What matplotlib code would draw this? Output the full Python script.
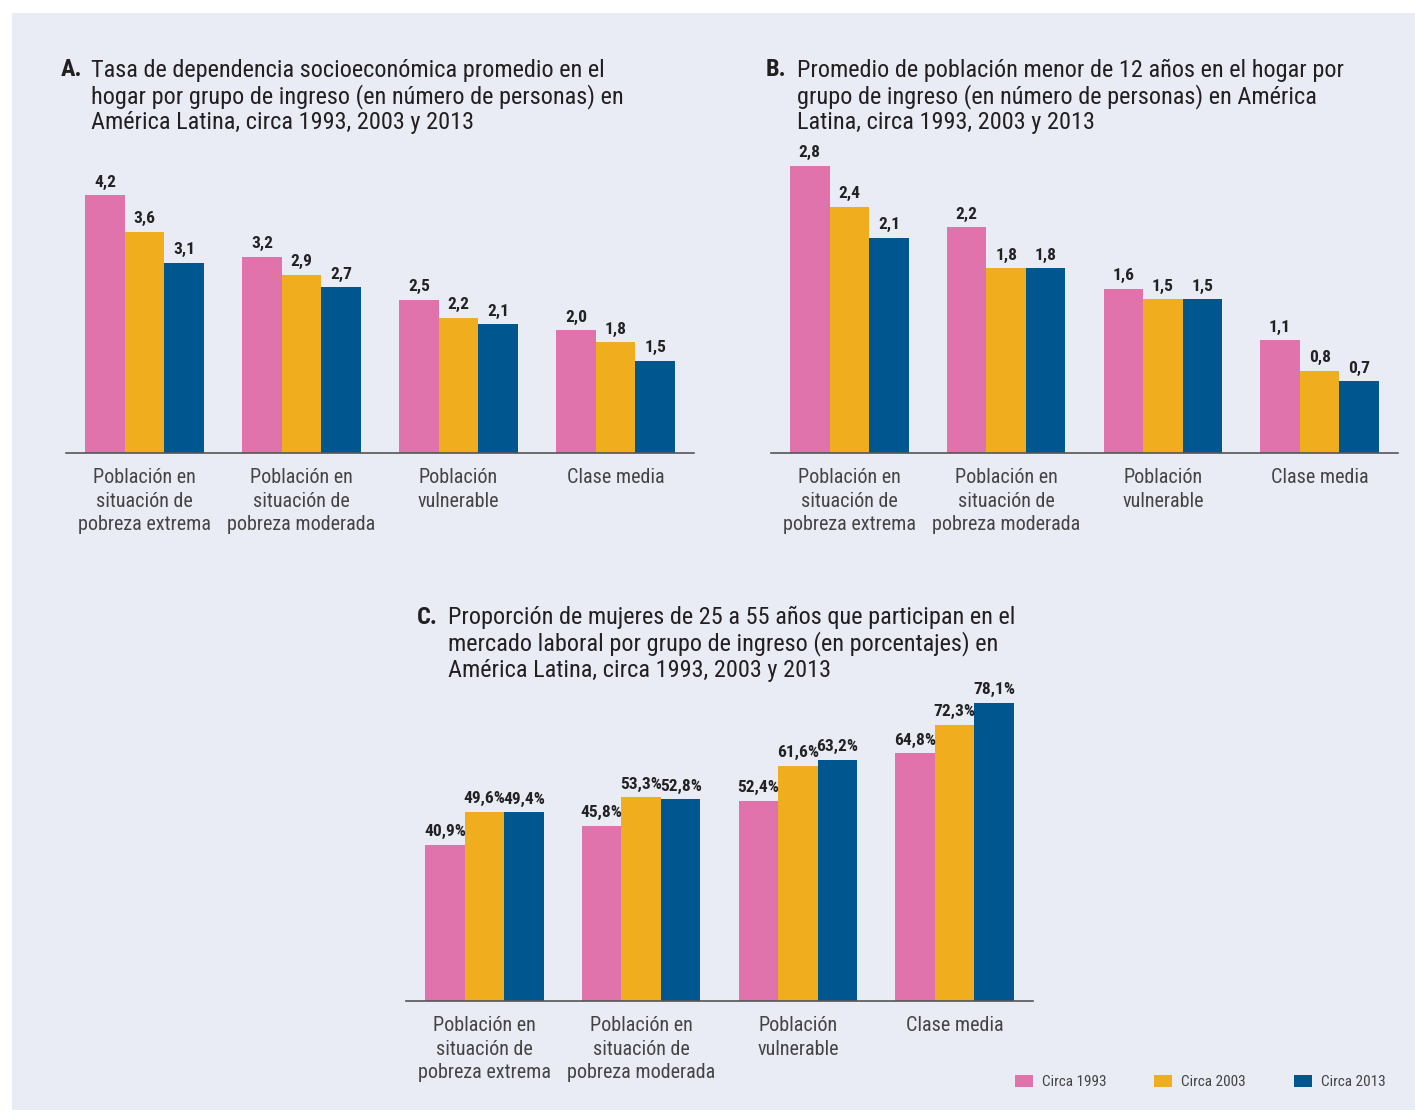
import matplotlib.pyplot as plt
import matplotlib.patches as mpatches
from matplotlib import font_manager as fm
import numpy as np

available = {f.name for f in fm.fontManager.ttflist}
for fam in ['Roboto Condensed', 'Archivo Narrow', 'Asap Condensed',
            'Liberation Sans Narrow', 'Roboto']:
    if fam in available:
        break
plt.rcParams['font.family'] = [fam, 'DejaVu Sans']

W, H = 1415, 1112

categories = [
    'Población en\nsituación de\npobreza extrema',
    'Población en\nsituación de\npobreza moderada',
    'Población\nvulnerable',
    'Clase media',
]
series = ['Circa 1993', 'Circa 2003', 'Circa 2013']
colors = ['#E073AB', '#F0AE1E', '#00568F']

# A: tasa de dependencia socioeconomica
dep_1993 = [4.2, 3.2, 2.5, 2.0]
dep_2003 = [3.6, 2.9, 2.2, 1.8]
dep_2013 = [3.1, 2.7, 2.1, 1.5]

# B: menores de 12 anos
men_1993 = [2.8, 2.2, 1.6, 1.1]
men_2003 = [2.4, 1.8, 1.5, 0.8]
men_2013 = [2.1, 1.8, 1.5, 0.7]

# C: participacion laboral mujeres (%)
muj_1993 = [40.9, 45.8, 52.4, 64.8]
muj_2003 = [49.6, 53.3, 61.6, 72.3]
muj_2013 = [49.4, 52.8, 63.2, 78.1]

titles_a = ['Tasa de dependencia socioeconómica promedio en el',
            'hogar por grupo de ingreso (en número de personas) en',
            'América Latina, circa 1993, 2003 y 2013']
titles_b = ['Promedio de población menor de 12 años en el hogar por',
            'grupo de ingreso (en número de personas) en América',
            'Latina, circa 1993, 2003 y 2013']
titles_c = ['Proporción de mujeres de 25 a 55 años que participan en el',
            'mercado laboral por grupo de ingreso (en porcentajes) en',
            'América Latina, circa 1993, 2003 y 2013']

bg = '#EAECF5'
fig = plt.figure(figsize=(W / 100, H / 100), dpi=100)
fig.patch.set_facecolor('white')
fig.patches.append(mpatches.Rectangle((12 / W, 1 - 1110 / H), 1 - 12 / W, (1110 - 13) / H,
                                      transform=fig.transFigure, facecolor=bg,
                                      edgecolor='none', zorder=-10))


def px_axes(x0, x1, ybase, ytop):
    return fig.add_axes([x0 / W, 1 - ybase / H, (x1 - x0) / W, (ybase - ytop) / H])


def draw_panel(ax, data, ymax, fmt):
    x = np.arange(len(categories))
    w = 0.252
    bars = []
    for i, (vals, c) in enumerate(zip(data, colors)):
        b = ax.bar(x + (i - 1) * w, vals, width=w, color=c, label=series[i])
        bars.append(b)
        for xi, v in zip(x + (i - 1) * w, vals):
            ax.annotate(fmt(v), (xi, v), xytext=(0, 4), textcoords='offset points',
                        ha='center', va='bottom', fontsize=12.5, fontweight='bold',
                        color='#222222')
    ax.set_xlim(-0.5, len(categories) - 0.5)
    ax.set_ylim(0, ymax)
    ax.set_facecolor('none')
    for s in ['top', 'right', 'left']:
        ax.spines[s].set_visible(False)
    ax.spines['bottom'].set_color('#555555')
    ax.spines['bottom'].set_linewidth(1.2)
    ax.set_yticks([])
    ax.set_xticks(x)
    ax.set_xticklabels(categories, fontsize=14.5, color='#444444', linespacing=1.3)
    ax.tick_params(axis='x', length=0, pad=11)
    return bars


def dec(v):
    return f'{v:.1f}'.replace('.', ',')


def pct(v):
    return f'{v:.1f}%'.replace('.', ',')


def title(letter, lines, xl, xt, y0):
    fig.text(xl / W, 1 - y0 / H, letter, fontsize=17.5, fontweight='bold',
             color='#231F20', va='center', ha='left')
    for k, line in enumerate(lines):
        fig.text(xt / W, 1 - (y0 + k * 26.5) / H, line, fontsize=17.5,
                 color='#231F20', va='center', ha='left')


ax_a = px_axes(66, 694, 453, 140)
draw_panel(ax_a, [dep_1993, dep_2003, dep_2013], 313 / 61.4, dec)
title('A.', titles_a, 61, 91, 70)

ax_b = px_axes(771, 1398, 453, 140)
draw_panel(ax_b, [men_1993, men_2003, men_2013], 313 / 102.6, dec)
title('B.', titles_b, 766, 797, 70)

ax_c = px_axes(406, 1033, 1001, 680)
bars_c = draw_panel(ax_c, [muj_1993, muj_2003, muj_2013], 321 / 3.82, pct)
title('C.', titles_c, 417, 448, 617)

fig.legend(handles=bars_c, labels=series, loc='center left',
           bbox_to_anchor=(1015 / W, 1 - 1082 / H), ncol=3, frameon=False,
           fontsize=11, handlelength=1.15, handleheight=0.85,
           handletextpad=0.6, columnspacing=3.15, borderaxespad=0, borderpad=0,
           labelcolor='#444444')

fig.savefig('out.png', dpi=100, facecolor=fig.get_facecolor())
